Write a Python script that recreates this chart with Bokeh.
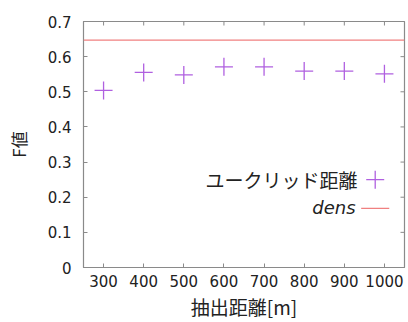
import math
from bokeh.plotting import figure
from bokeh.models import Label, FixedTicker, Range1d, Span
from bokeh.embed import file_html
from bokeh.resources import INLINE

# ---- data ----
distances = [300, 400, 500, 600, 700, 800, 900, 1000]
euclid_f = [0.504, 0.555, 0.548, 0.571, 0.571, 0.559, 0.559, 0.551]
dens_f = 0.647
x_ticks = [300, 400, 500, 600, 700, 800, 900, 1000]
y_ticks = [0, 0.1, 0.2, 0.3, 0.4, 0.5, 0.6, 0.7]
y_tick_labels = ["0", "0.1", "0.2", "0.3", "0.4", "0.5", "0.6", "0.7"]
series_names = ["ユークリッド距離", "dens"]
x_title = "抽出距離[m]"
y_title = "F値"

# ---- style ----
PURPLE = "#b060e0"
RED = "#f08080"
GRAY = "#8a8a8a"
TXT = "#222222"
NUM_FONT = "DejaVu Sans"
JP_FONT = "Noto Sans CJK JP"
X_MIN, X_MAX = 250, 1050
Y_MIN, Y_MAX = 0, 0.7

p = figure(width=406, height=322, x_range=Range1d(X_MIN, X_MAX), y_range=Range1d(Y_MIN, Y_MAX),
           output_backend="svg", toolbar_location=None,
           min_border_left=83, min_border_right=2, min_border_top=21, min_border_bottom=52)
p.grid.visible = False
p.outline_line_color = GRAY
p.outline_line_width = 1.2
p.background_fill_color = "white"
p.border_fill_color = "white"

for ax in (p.xaxis[0], p.yaxis[0]):
    ax.axis_line_color = GRAY
    ax.major_tick_line_color = GRAY
    ax.major_tick_in = 4
    ax.major_tick_out = 0
    ax.minor_tick_line_color = None
    ax.major_label_text_font = NUM_FONT
    ax.major_label_text_font_size = "15px"
    ax.major_label_text_color = TXT
    ax.axis_label_text_font = JP_FONT
    ax.axis_label_text_font_style = "normal"
    ax.axis_label_text_color = TXT

p.xaxis.ticker = FixedTicker(ticks=x_ticks)
p.yaxis.ticker = FixedTicker(ticks=y_ticks)
p.yaxis.major_label_overrides = {t: l for t, l in zip(y_ticks, y_tick_labels)}
p.xaxis.axis_label = x_title
p.yaxis.axis_label = y_title
p.xaxis.axis_label_text_font_size = "19px"
p.yaxis.axis_label_text_font_size = "17px"
p.xaxis.major_label_standoff = 7
p.xaxis.axis_label_standoff = 3
p.yaxis.major_label_standoff = 12
p.yaxis.axis_label_standoff = 14

# mirrored inward ticks on top and right (markers clipped by the frame)
p.scatter([X_MAX] * len(y_ticks), y_ticks, marker="dash", size=8, line_color=GRAY, line_width=1)
p.scatter(x_ticks, [Y_MAX] * len(x_ticks), marker="dash", angle=math.pi / 2, size=8,
          line_color=GRAY, line_width=1)

# data
p.scatter(distances, euclid_f, marker="cross", size=18, line_color=PURPLE, line_width=1.3)
p.add_layout(Span(location=dens_f, dimension="width", line_color=RED, line_width=1.3))

# legend (gnuplot style: text right-aligned, key on the right)
LEG_TEXT_X = 933
LEG_TEXT2_X = 928
LEG_KEY_X = 977
LEG_KEY_HALF = 35
ROW1_Y = 0.250
ROW2_Y = 0.168
p.add_layout(Label(x=LEG_TEXT_X, y=ROW1_Y, text=series_names[0], text_align="right",
                   text_baseline="middle", text_font=JP_FONT, text_font_size="19px",
                   text_color=TXT))
p.add_layout(Label(x=LEG_TEXT2_X, y=ROW2_Y + 0.004, text=series_names[1], text_align="right",
                   text_baseline="middle", text_font=NUM_FONT, text_font_size="18px",
                   text_font_style="italic", text_color=TXT))
p.scatter([LEG_KEY_X], [ROW1_Y], marker="cross", size=18, line_color=PURPLE, line_width=1.3)
p.line([LEG_KEY_X - LEG_KEY_HALF, LEG_KEY_X + LEG_KEY_HALF], [ROW2_Y, ROW2_Y],
       line_color=RED, line_width=1.3)

open("out.html", "w").write(file_html(p, INLINE))
